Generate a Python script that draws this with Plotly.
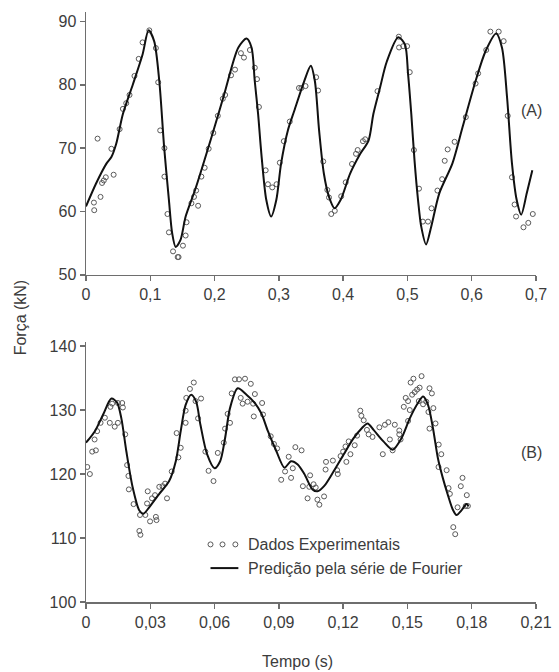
import plotly.graph_objects as go

# ---------------- Panel A data ----------------
a_exp_t = [0.0123, 0.0128, 0.018, 0.0226, 0.025, 0.0277, 0.0308, 0.0395, 0.043, 0.0523,
           0.0574, 0.0626, 0.0677, 0.0754, 0.082, 0.088, 0.0985, 0.1087, 0.1123, 0.1154,
           0.122, 0.122, 0.1267, 0.129, 0.1354, 0.1426, 0.144, 0.1508, 0.155, 0.1564,
           0.164, 0.168, 0.1713, 0.1744, 0.1795, 0.1846, 0.1908, 0.198, 0.205, 0.2128,
           0.2164, 0.2256, 0.2318, 0.241, 0.2457, 0.255, 0.2626, 0.266, 0.269, 0.2795,
           0.283, 0.2897, 0.2964, 0.3015, 0.3077, 0.317, 0.3313, 0.335, 0.3415, 0.358,
           0.361, 0.369, 0.3754, 0.378, 0.3815, 0.387, 0.397, 0.404, 0.4138, 0.42,
           0.4226, 0.4308, 0.4343, 0.4534, 0.4866, 0.487, 0.4934, 0.4995, 0.5036, 0.510,
           0.518, 0.524, 0.532, 0.5375, 0.5467, 0.554, 0.558, 0.5626, 0.5734, 0.5908,
           0.606, 0.610, 0.6226, 0.629, 0.642, 0.6497, 0.656, 0.6626, 0.6667, 0.669,
           0.6805, 0.688, 0.695]
a_exp_f = [61.4, 60.2, 71.5, 62.3, 64.5, 64.9, 65.4, 69.9, 65.8, 73.0,
           76.2, 77.1, 78.4, 81.4, 84.1, 86.7, 88.6, 85.8, 80.4, 72.8,
           70.0, 65.5, 59.6, 56.7, 53.7, 52.8, 52.8, 54.6, 56.2, 58.3,
           61.3, 62.3, 63.3, 60.9, 65.5, 66.9, 69.9, 72.4, 75.1, 77.8,
           78.4, 81.5, 82.4, 85.0, 84.3, 85.5, 82.7, 80.9, 76.5, 66.5,
           64.3, 63.8, 64.3, 67.7, 71.1, 74.2, 79.5, 79.5, 79.8, 81.2,
           79.1, 67.9, 63.4, 62.2, 59.6, 60.1, 62.4, 64.6, 67.5, 69.1,
           69.7, 71.1, 71.4, 79.0, 87.6, 85.9, 86.1, 86.1, 82.0, 69.7,
           63.6, 58.4, 58.4, 60.5, 63.3, 65.1, 68.0, 69.8, 71.0, 74.9,
           80.2, 81.8, 85.5, 88.4, 88.4, 86.9, 75.1, 65.4, 61.1, 59.2,
           57.5, 58.2, 59.6]

a_fit_t = [0.0, 0.016, 0.032, 0.0395, 0.047, 0.0574, 0.073, 0.088, 0.0974, 0.106,
           0.114, 0.1215, 0.129, 0.134, 0.1395, 0.147, 0.155, 0.170, 0.196, 0.215,
           0.237, 0.2497, 0.2575, 0.2625, 0.2677, 0.2728, 0.2805, 0.288, 0.296, 0.3035,
           0.314, 0.324, 0.3395, 0.3497, 0.356, 0.3626, 0.370, 0.378, 0.3866, 0.396,
           0.411, 0.4266, 0.4395, 0.447, 0.4575, 0.4677, 0.4857, 0.496, 0.501, 0.506,
           0.511, 0.5165, 0.5215, 0.529, 0.537, 0.5497, 0.570, 0.5857, 0.606, 0.6215,
           0.638, 0.647, 0.655, 0.6626, 0.670, 0.677, 0.6857, 0.6943]
a_fit_f = [60.8, 64.5, 67.6, 68.6, 70.7, 75.4, 80.1, 84.8, 88.6, 86.9,
           80.6, 70.2, 61.8, 56.6, 54.4, 55.5, 59.2, 63.5, 72.0, 78.5,
           85.9, 87.3, 85.9, 80.6, 75.4, 69.1, 61.8, 59.2, 61.8, 67.6,
           72.8, 75.9, 80.6, 83.0, 80.6, 72.8, 66.0, 62.3, 60.5, 61.8,
           66.0, 69.1, 71.2, 75.4, 79.6, 83.6, 87.5, 86.4, 81.7, 75.4,
           68.1, 61.8, 57.6, 54.8, 57.6, 62.9, 67.6, 73.3, 80.6, 85.3,
           88.1, 85.9, 78.0, 67.6, 61.8, 59.5, 62.9, 66.5]

# ---------------- Panel B data ----------------
b_exp_t = [0.0006, 0.0018, 0.0029, 0.0046, 0.004, 0.0052, 0.0068, 0.0088, 0.0111, 0.0114,
           0.0122, 0.0134, 0.0149, 0.0149, 0.0169, 0.0172, 0.0183, 0.0192, 0.0198, 0.020,
           0.0222, 0.0252, 0.0249, 0.0254, 0.0277, 0.0285, 0.0288, 0.0299, 0.0308, 0.0322,
           0.0326, 0.0329, 0.0342, 0.0357, 0.0369, 0.0378, 0.040, 0.0423, 0.0431, 0.0442,
           0.0465, 0.0465, 0.0468, 0.0485, 0.0503, 0.0511, 0.0537, 0.0523, 0.0557, 0.0572,
           0.0595, 0.0615, 0.0643, 0.0649, 0.0661, 0.0672, 0.068, 0.0695, 0.0714, 0.0742,
           0.0722, 0.0731, 0.0754, 0.0769, 0.078, 0.0788, 0.0783, 0.0822, 0.0826, 0.0862,
           0.0877, 0.0892, 0.0911, 0.0929, 0.0946, 0.0957, 0.0965, 0.0977, 0.1006, 0.1012,
           0.1034, 0.1042, 0.1046, 0.1062, 0.1072, 0.108, 0.1089, 0.1111, 0.1118, 0.112,
           0.1152, 0.1172, 0.1175, 0.1188, 0.120, 0.1211, 0.1215, 0.1226, 0.1234, 0.1254,
           0.1265, 0.128, 0.1285, 0.1296, 0.1311, 0.1319, 0.1337, 0.1369, 0.1385, 0.1395,
           0.1411, 0.1418, 0.1431, 0.1441, 0.1462, 0.1462, 0.1468, 0.1483, 0.1492, 0.1503,
           0.1511, 0.1503, 0.1515, 0.1528, 0.1522, 0.1534, 0.1545, 0.1557, 0.1553, 0.1566,
           0.1573, 0.1588, 0.1603, 0.1614, 0.1621, 0.1598, 0.1631, 0.1603, 0.1646, 0.1658,
           0.1645, 0.1683, 0.1692, 0.1698, 0.1714, 0.1723, 0.1734, 0.1749, 0.1757, 0.1777,
           0.1772, 0.1782]
b_exp_f = [121.1, 120.0, 123.5, 123.7, 125.4, 126.7, 128.0, 128.8, 128.0, 130.5,
           131.0, 127.4, 128.0, 131.1, 131.1, 130.4, 126.2, 121.4, 119.7, 117.6,
           115.3, 113.6, 111.1, 110.5, 113.6, 115.4, 117.3, 112.6, 116.2, 116.7,
           113.3, 112.8, 118.0, 118.1, 118.5, 116.2, 120.4, 126.4, 122.6, 124.1,
           128.0, 129.9, 131.9, 133.3, 134.3, 131.4, 131.8, 128.7, 123.5, 120.5,
           118.9, 123.3, 124.9, 127.1, 129.4, 128.0, 132.6, 134.8, 134.8, 134.9,
           131.9, 131.0, 131.3, 134.1, 131.0, 132.5, 129.0, 131.1, 129.3, 125.9,
           124.7, 124.0, 119.1, 120.4, 122.7, 119.4, 120.9, 124.2, 123.7, 118.1,
           116.2, 118.0, 119.8, 118.4, 117.9, 116.0, 115.2, 116.5, 120.7, 121.9,
           122.1, 120.6, 120.0, 122.8, 123.5, 124.3, 121.9, 125.1, 123.1, 124.5,
           126.0, 129.9, 129.1, 128.4, 126.9, 126.2, 125.8, 127.3, 123.1, 127.7,
           128.1, 125.4, 123.7, 127.7, 126.8, 126.2, 125.4, 130.5, 131.9, 131.4,
           130.0, 128.3, 134.3, 134.9, 132.4, 132.8, 133.2, 133.5, 131.4, 135.3,
           130.9, 131.3, 133.4, 132.6, 130.3, 129.7, 127.9, 127.1, 124.6, 123.1,
           121.1, 120.6, 117.8, 116.9, 111.7, 110.6, 114.8, 118.1, 119.4, 116.7,
           115.0, 115.0]

b_fit_t = [0.0, 0.00415, 0.008, 0.01185, 0.01446, 0.0165, 0.0188, 0.0218, 0.0249, 0.0268,
           0.0295, 0.0342, 0.0388, 0.0419, 0.0442, 0.0465, 0.0491, 0.0514, 0.0534, 0.0565,
           0.060, 0.0626, 0.0649, 0.0672, 0.0708, 0.0749, 0.0788, 0.0818, 0.0849, 0.0888,
           0.0926, 0.0957, 0.0988, 0.1019, 0.1057, 0.108, 0.1111, 0.1157, 0.1203, 0.1249,
           0.1288, 0.1314, 0.1342, 0.1388, 0.1431, 0.1472, 0.1511, 0.1549, 0.1573, 0.1596,
           0.1619, 0.1642, 0.1665, 0.1688, 0.1711, 0.1729, 0.1754, 0.1775, 0.1785]
b_fit_f = [124.9, 126.7, 129.3, 131.8, 131.2, 128.7, 123.6, 117.9, 114.3, 113.8,
           114.8, 116.9, 118.9, 122.0, 126.7, 130.8, 132.4, 131.3, 127.7, 123.1,
           120.9, 122.0, 125.6, 130.3, 133.4, 132.4, 131.1, 129.5, 126.7, 123.6,
           121.0, 122.0, 121.5, 120.0, 117.6, 117.3, 118.1, 120.5, 123.1, 125.6,
           127.2, 127.9, 126.9, 125.1, 123.8, 125.6, 128.7, 131.1, 132.1, 130.8,
           127.2, 122.5, 119.4, 116.8, 114.5, 113.6, 114.4, 115.3, 115.0]

# ---------------- Axis ticks / labels ----------------
a_xticks = [0, 0.1, 0.2, 0.3, 0.4, 0.5, 0.6, 0.7]
a_xlabels = ["0", "0,1", "0,2", "0,3", "0,4", "0,5", "0,6", "0,7"]
a_yticks = [50, 60, 70, 80, 90]
b_xticks = [0, 0.03, 0.06, 0.09, 0.12, 0.15, 0.18, 0.21]
b_xlabels = ["0", "0,03", "0,06", "0,09", "0,12", "0,15", "0,18", "0,21"]
b_yticks = [100, 110, 120, 130, 140]
legend_labels = ["Dados Experimentais", "Predição pela série de Fourier"]

FONT = "Liberation Sans, Arial, sans-serif"
AXIS_COLOR = "#6e6e6e"
TEXT_COLOR = "#3c3c3c"
MARK_COLOR = "#5a5a5a"
MARKER = dict(symbol="circle-open", size=5, color=MARK_COLOR, line=dict(width=1, color=MARK_COLOR))
LINE = dict(color="#111111", width=2, shape="spline", smoothing=0.8)

fig = go.Figure()
fig.add_trace(go.Scatter(x=a_exp_t, y=a_exp_f, mode="markers", marker=MARKER,
                         xaxis="x", yaxis="y", showlegend=False, name=legend_labels[0]))
fig.add_trace(go.Scatter(x=a_fit_t, y=a_fit_f, mode="lines", line=LINE,
                         xaxis="x", yaxis="y", showlegend=False, name=legend_labels[1]))
fig.add_trace(go.Scatter(x=b_exp_t, y=b_exp_f, mode="markers", marker=MARKER,
                         xaxis="x2", yaxis="y2", showlegend=False, name=legend_labels[0]))
fig.add_trace(go.Scatter(x=b_fit_t, y=b_fit_f, mode="lines", line=LINE,
                         xaxis="x2", yaxis="y2", showlegend=False, name=legend_labels[1]))

axis_common = dict(showgrid=False, zeroline=False, showline=True, linecolor=AXIS_COLOR, linewidth=1.5,
                   ticks="outside", ticklen=5, tickcolor=AXIS_COLOR, tickwidth=1.5,
                   tickfont=dict(family=FONT, size=16, color=TEXT_COLOR))

TXT = dict(family=FONT, size=16, color=TEXT_COLOR)

# Manual legend (inside panel B): three small circles + a line + labels
leg_x_sym = [0.0581, 0.0637, 0.0697]
leg_line = [0.0581, 0.0711]
leg_text_x = 0.0748
leg_y = [109.0, 105.3]

shapes = []
for xs in leg_x_sym:
    shapes.append(dict(type="circle", xref="x2", yref="y2", xsizemode="pixel", ysizemode="pixel",
                       xanchor=xs, yanchor=leg_y[0], x0=-2.5, x1=2.5, y0=-2.5, y1=2.5,
                       line=dict(color=MARK_COLOR, width=1)))
shapes.append(dict(type="line", xref="x2", yref="y2", x0=leg_line[0], x1=leg_line[1],
                   y0=leg_y[1], y1=leg_y[1], line=dict(color="#111111", width=2)))

fig.update_layout(
    width=559, height=672,
    margin=dict(l=86, r=18, t=7, b=70),
    paper_bgcolor="white", plot_bgcolor="white",
    font=dict(family=FONT, color=TEXT_COLOR),
    xaxis=dict(domain=[0, 1], anchor="y", range=[0, 0.7], tickvals=a_xticks, ticktext=a_xlabels, **axis_common),
    yaxis=dict(domain=[0.5546, 1], anchor="x", range=[50, 91.5], tickvals=a_yticks, **axis_common),
    xaxis2=dict(domain=[0, 1], anchor="y2", range=[0, 0.21], tickvals=b_xticks, ticktext=b_xlabels, **axis_common),
    yaxis2=dict(domain=[0, 0.4403], anchor="x2", range=[100, 140.6], tickvals=b_yticks, **axis_common),
    showlegend=False,
    hovermode=False,
    shapes=shapes,
    annotations=[
        dict(text=legend_labels[0], x=leg_text_x, y=leg_y[0], xref="x2", yref="y2", showarrow=False,
             xanchor="left", yanchor="middle", font=TXT),
        dict(text=legend_labels[1], x=leg_text_x, y=leg_y[1], xref="x2", yref="y2", showarrow=False,
             xanchor="left", yanchor="middle", font=TXT),
        dict(text="(A)", x=0.6934, y=76.0, xref="x", yref="y", showarrow=False,
             xanchor="center", yanchor="middle", font=TXT),
        dict(text="(B)", x=0.208, y=123.3, xref="x2", yref="y2", showarrow=False,
             xanchor="center", yanchor="middle", font=TXT),
        dict(text="Força (kN)", x=-0.145, y=0.482, xref="paper", yref="paper", textangle=-90,
             xanchor="center", yanchor="middle", showarrow=False, font=TXT),
        dict(text="Tempo (s)", x=0.470, y=-0.1008, xref="paper", yref="paper", showarrow=False,
             xanchor="center", yanchor="middle", font=TXT),
    ],
)

fig.write_html(
    "out.html",
    config={"displayModeBar": False, "staticPlot": True},
    post_script=("document.body.style.margin='0';document.body.style.padding='0';"
                 "document.body.style.overflow='hidden';"
                 "document.documentElement.style.overflow='hidden';"),
)
